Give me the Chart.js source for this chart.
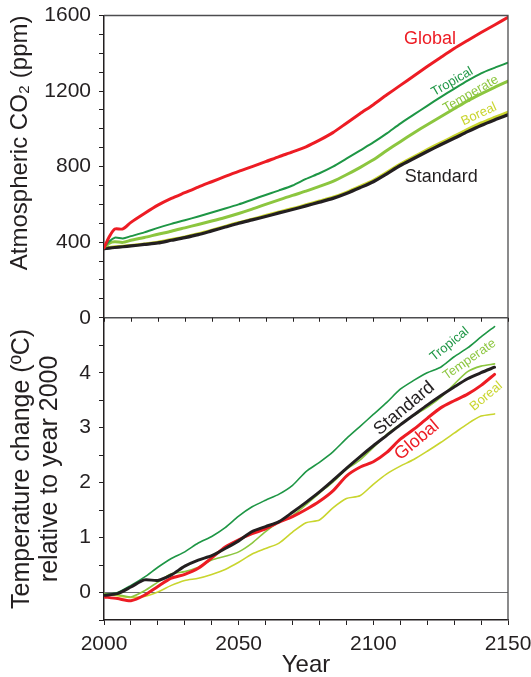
<!DOCTYPE html>
<html>
<head>
<meta charset="utf-8">
<script src="https://cdn.jsdelivr.net/npm/chart.js@4.4.0/dist/chart.umd.min.js"></script>
<style>
  html, body { margin: 0; padding: 0; background: #fff; overflow: hidden; }
  canvas { display: block; }
</style>
</head>
<body>
<canvas id="co2Chart" width="531" height="677"></canvas>
<script>
// top panel: atmospheric CO2 (ppm)
var co2Years = [2000, 2002, 2004, 2007, 2010, 2015, 2020, 2025, 2030, 2035, 2040, 2045, 2050, 2055, 2060, 2065, 2070,
  2075, 2080, 2085, 2090, 2095, 2100, 2105, 2110, 2115, 2120, 2125, 2130, 2135, 2140, 2145, 2150];
var co2Global = [370, 430, 470, 470, 505, 552, 596, 632, 662, 692, 720, 748, 775, 800, 826, 853, 878,
  905, 940, 980, 1030, 1080, 1128, 1180, 1230, 1280, 1330, 1378, 1425, 1468, 1510, 1550, 1591];
var co2Tropical = [372, 405, 424, 420, 432, 452, 476, 497, 516, 536, 557, 578, 600, 625, 650, 674, 700,
  735, 765, 800, 842, 885, 928, 976, 1028, 1075, 1122, 1168, 1212, 1255, 1294, 1323, 1350];
var co2Temperate = [372, 395, 402, 399, 410, 425, 442, 458, 476, 494, 512, 531, 552, 575, 600, 624, 648,
  670, 695, 722, 757, 795, 836, 885, 932, 978, 1022, 1064, 1106, 1148, 1185, 1220, 1252];
var co2Standard = [366, 369, 372, 376, 380, 388, 396, 410, 424, 440, 460, 480, 500, 518, 536, 555, 573,
  592, 612, 632, 658, 688, 720, 762, 806, 843, 880, 916, 950, 985, 1018, 1047, 1074];
var co2Boreal = [368, 372, 376, 379, 383, 391, 400, 414, 428, 445, 464, 484, 504, 522, 541, 560, 578,
  598, 618, 638, 664, 695, 728, 770, 814, 852, 890, 926, 961, 997, 1031, 1060, 1088];

// bottom panel: temperature change relative to 2000 (ºC)
var tempYears = [2000, 2005, 2010, 2015, 2020, 2025, 2030, 2035, 2040, 2045, 2050, 2055, 2060, 2065, 2070,
  2075, 2080, 2085, 2090, 2095, 2100, 2105, 2110, 2115, 2120, 2125, 2130, 2135, 2140, 2145];
var tempTropical = [-0.04, 0.00, 0.13, 0.28, 0.46, 0.62, 0.74, 0.90, 1.02, 1.18, 1.39, 1.56, 1.68, 1.79, 1.95,
  2.20, 2.37, 2.56, 2.80, 3.02, 3.24, 3.46, 3.70, 3.86, 4.00, 4.10, 4.29, 4.45, 4.65, 4.84];
var tempStandard = [-0.05, -0.02, 0.10, 0.23, 0.22, 0.32, 0.48, 0.59, 0.67, 0.80, 0.94, 1.11, 1.20, 1.29, 1.46,
  1.64, 1.83, 2.04, 2.26, 2.47, 2.67, 2.86, 3.05, 3.23, 3.41, 3.58, 3.74, 3.89, 4.00, 4.10];
var tempGlobal = [-0.08, -0.11, -0.15, -0.05, 0.11, 0.26, 0.33, 0.44, 0.63, 0.83, 0.96, 1.07, 1.16, 1.28, 1.38,
  1.51, 1.66, 1.85, 2.12, 2.28, 2.38, 2.55, 2.79, 2.97, 3.17, 3.36, 3.49, 3.61, 3.77, 3.97];
var tempTemperate = [-0.02, -0.04, -0.08, 0.03, 0.19, 0.34, 0.38, 0.46, 0.59, 0.66, 0.74, 0.90, 1.11, 1.28, 1.40,
  1.60, 1.81, 2.01, 2.24, 2.41, 2.64, 2.88, 3.06, 3.22, 3.37, 3.55, 3.79, 4.02, 4.12, 4.16];
var tempBoreal = [-0.03, -0.06, -0.09, -0.07, 0.01, 0.13, 0.22, 0.26, 0.33, 0.42, 0.55, 0.70, 0.80, 0.90, 1.10,
  1.27, 1.32, 1.54, 1.71, 1.76, 1.97, 2.16, 2.30, 2.42, 2.57, 2.73, 2.90, 3.07, 3.21, 3.25];

var co2LabelTicks = [0, 400, 800, 1200, 1600];
var tempLabelTicks = [0, 1, 2, 3, 4];
var yearLabelTicks = [2000, 2050, 2100, 2150];

var textColor = '#231f20';
var red = '#ed1c24';
var tropicalGreen = '#1e9645';
var temperateGreen = '#8cc63f';
var borealYellow = '#c9d52e';
var fontFamily = '"Liberation Sans", Arial, Helvetica, sans-serif';

function points(xs, ys) {
  return xs.map(function (x, i) { return { x: x, y: ys[i] }; });
}

// series names written next to the curves (year / value on that panel's axis)
var curveLabels = [
  { text: 'Global', axis: 'co2', year: 2121, value: 1476, color: red, size: 18, angle: 0 },
  { text: 'Tropical', axis: 'co2', year: 2129.3, value: 1249, color: tropicalGreen, size: 13, angle: -30 },
  { text: 'Temperate', axis: 'co2', year: 2136.2, value: 1185, color: temperateGreen, size: 13, angle: -30 },
  { text: 'Boreal', axis: 'co2', year: 2139.2, value: 1077, color: borealYellow, size: 13, angle: -25 },
  { text: 'Standard', axis: 'co2', year: 2125.2, value: 745, color: textColor, size: 18, angle: 0 },
  { text: 'Tropical', axis: 'temp', year: 2128.3, value: 4.52, color: tropicalGreen, size: 13, angle: -39 },
  { text: 'Temperate', axis: 'temp', year: 2135.7, value: 4.24, color: temperateGreen, size: 13, angle: -35 },
  { text: 'Standard', axis: 'temp', year: 2111.5, value: 3.35, color: textColor, size: 18, angle: -40 },
  { text: 'Global', axis: 'temp', year: 2116.2, value: 2.77, color: red, size: 18, angle: -40 },
  { text: 'Boreal', axis: 'temp', year: 2141.9, value: 3.57, color: borealYellow, size: 13, angle: -40 }
];

var panelPlugin = {
  id: 'panelDecor',
  afterDatasetsDraw: function (chart) {
    var ctx = chart.ctx;
    var area = chart.chartArea;
    var xs = chart.scales.x;
    var divider = chart.scales.temp.top;
    ctx.save();
    // frame top/right and divider between the panels
    ctx.strokeStyle = '#4d4d4f';
    ctx.lineWidth = 1.3;
    ctx.beginPath();
    ctx.moveTo(area.left, area.top);
    ctx.lineTo(area.right, area.top);
    ctx.lineTo(area.right, area.bottom);
    ctx.moveTo(area.left, divider);
    ctx.lineTo(area.right, divider);
    ctx.stroke();
    // year ticks hanging below the divider
    ctx.strokeStyle = textColor;
    ctx.lineWidth = 1;
    ctx.beginPath();
    xs.ticks.forEach(function (t) {
      var px = Math.round(xs.getPixelForValue(t.value)) + 0.5;
      ctx.moveTo(px, divider);
      ctx.lineTo(px, divider + 4);
    });
    ctx.stroke();
    // curve names
    ctx.textAlign = 'center';
    ctx.textBaseline = 'middle';
    curveLabels.forEach(function (l) {
      var px = xs.getPixelForValue(l.year);
      var py = chart.scales[l.axis].getPixelForValue(l.value);
      ctx.save();
      ctx.translate(px, py);
      ctx.rotate(l.angle * Math.PI / 180);
      ctx.fillStyle = l.color;
      ctx.font = l.size + 'px ' + fontFamily;
      ctx.fillText(l.text, 0, 0);
      ctx.restore();
    });
    ctx.restore();
  }
};

// fixed axis boxes; labels may overhang the plot without pushing it inwards
function noOverhang(scale) {
  scale.paddingTop = 0;
  scale.paddingBottom = 0;
  scale.paddingLeft = 0;
  scale.paddingRight = 0;
}
function yWidth(scale) { scale.width = 104; noOverhang(scale); }
function xHeight(scale) { scale.height = 57; noOverhang(scale); }

var tickFont = { family: fontFamily, size: 21 };

var config = {
  type: 'line',
  data: {
    datasets: [
      { data: points(co2Years, co2Global), yAxisID: 'co2', borderColor: red, borderWidth: 3 },
      { data: points(co2Years, co2Tropical), yAxisID: 'co2', borderColor: tropicalGreen, borderWidth: 2 },
      { data: points(co2Years, co2Temperate), yAxisID: 'co2', borderColor: temperateGreen, borderWidth: 3 },
      { data: points(co2Years, co2Standard), yAxisID: 'co2', borderColor: textColor, borderWidth: 3.2 },
      { data: points(co2Years, co2Boreal), yAxisID: 'co2', borderColor: borealYellow, borderWidth: 3 },
      { data: points(tempYears, tempStandard), yAxisID: 'temp', borderColor: textColor, borderWidth: 3 },
      { data: points(tempYears, tempGlobal), yAxisID: 'temp', borderColor: red, borderWidth: 3 },
      { data: points(tempYears, tempTropical), yAxisID: 'temp', borderColor: tropicalGreen, borderWidth: 1.6 },
      { data: points(tempYears, tempTemperate), yAxisID: 'temp', borderColor: temperateGreen, borderWidth: 1.6 },
      { data: points(tempYears, tempBoreal), yAxisID: 'temp', borderColor: borealYellow, borderWidth: 1.6 }
    ]
  },
  options: {
    responsive: false,
    animation: false,
    layout: { autoPadding: false, padding: { left: 0, right: 23, top: 15.5, bottom: 0 } },
    plugins: { legend: { display: false }, tooltip: { enabled: false } },
    elements: {
      point: { radius: 0 },
      line: { tension: 0.25, borderCapStyle: 'round', borderJoinStyle: 'round' }
    },
    scales: {
      x: {
        type: 'linear', min: 2000, max: 2150,
        ticks: {
          stepSize: 10, autoSkip: false, maxRotation: 0, padding: 7, color: textColor, font: tickFont,
          callback: function (v) { return yearLabelTicks.indexOf(v) >= 0 ? String(v) : ''; }
        },
        grid: { drawOnChartArea: false, tickLength: 5, color: textColor },
        border: { color: textColor, width: 1.5 },
        title: { display: true, text: 'Year', color: textColor, font: { family: fontFamily, size: 24, lineHeight: 1 }, padding: 0 },
        afterFit: xHeight
      },
      temp: {
        type: 'linear', position: 'left', stack: 'panels', stackWeight: 1, weight: 1,
        min: -0.5, max: 5,
        ticks: {
          stepSize: 0.5, autoSkip: false, padding: 8, color: textColor, font: tickFont,
          callback: function (v) { return tempLabelTicks.indexOf(v) >= 0 ? String(v) : ''; }
        },
        grid: {
          drawOnChartArea: true, tickLength: 5, tickColor: textColor, lineWidth: 1,
          color: function (c) { return c.tick && c.tick.value === 0 ? '#6d6e71' : 'rgba(0,0,0,0)'; }
        },
        border: { color: textColor, width: 1.5 },
        title: {
          display: true, text: ['Temperature change (ºC)', 'relative to year 2000'],
          color: textColor, font: { family: fontFamily, size: 25, lineHeight: 1.12 }, padding: { top: 8, bottom: 0 }
        },
        afterFit: yWidth
      },
      co2: {
        type: 'linear', position: 'left', stack: 'panels', stackWeight: 1, weight: 2,
        min: 0, max: 1600,
        ticks: {
          stepSize: 100, autoSkip: false, padding: 8, color: textColor, font: tickFont,
          callback: function (v) { return co2LabelTicks.indexOf(v) >= 0 ? String(v) : ''; }
        },
        grid: { drawOnChartArea: false, tickLength: 5, color: textColor },
        border: { color: textColor, width: 1.5 },
        title: {
          display: true, text: 'Atmospheric CO\u2082 (ppm)', align: 'end',
          color: textColor, font: { family: fontFamily, size: 24, lineHeight: 1 }, padding: { top: 8, bottom: 0 }
        },
        afterFit: yWidth
      }
    }
  },
  plugins: [panelPlugin]
};

var co2Chart = new Chart(document.getElementById('co2Chart'), config);
</script>
</body>
</html>
